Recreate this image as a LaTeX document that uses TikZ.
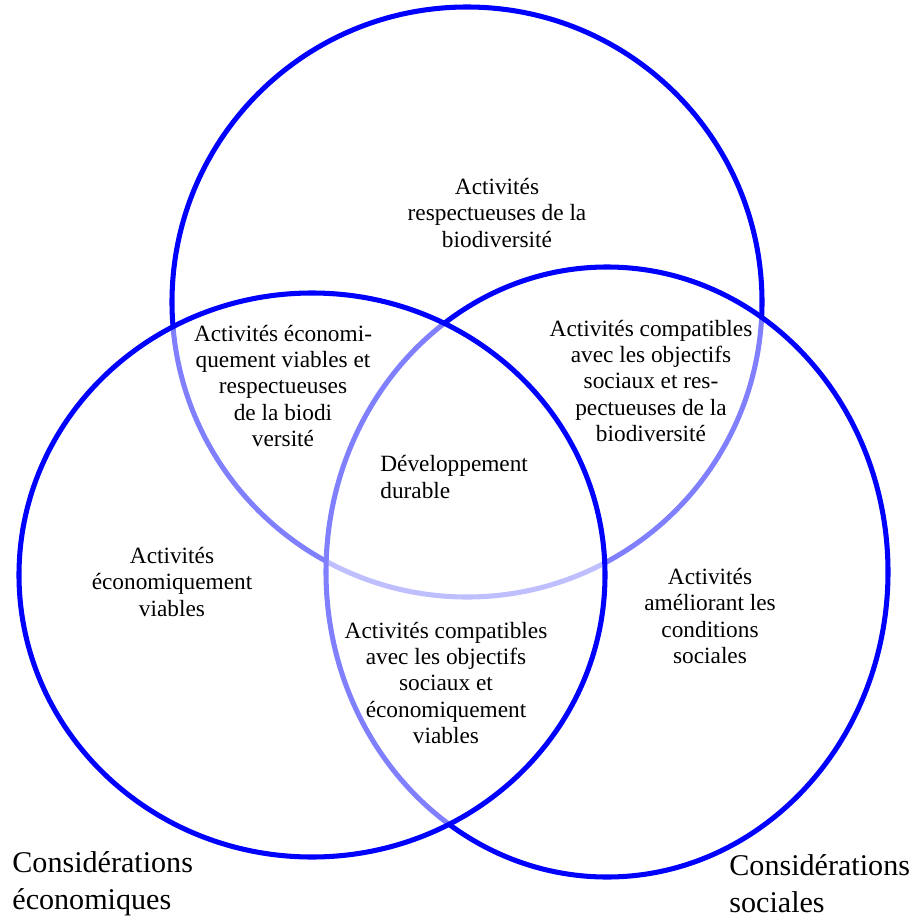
\documentclass[tikz,border=0pt]{standalone}
\usepackage{fontspec}
\setmainfont{Liberation Serif}
\begin{document}
\begin{tikzpicture}[x=0.0181cm, y=-0.0181cm,
    set/.style={draw=blue, line width=2.6pt, fill=white, fill opacity=0.5, draw opacity=1},
    zone/.style={align=center, inner sep=0pt, font=\fontsize{12}{13.4}\selectfont},
    title/.style={align=left, anchor=west, inner sep=0pt, font=\fontsize{15.5}{19}\selectfont}]

\useasboundingbox (0,0) rectangle (914,920);

% the three sets, drawn top, right, left
\filldraw[set] (467,302) ellipse [x radius=295, y radius=295];
\filldraw[set] (607,572) ellipse [x radius=281, y radius=305];
\filldraw[set] (312,575) ellipse [x radius=293, y radius=282];

\node[zone] (bio) at (497,213) {Activités\\respectueuses de la\\biodiversité};
\node[zone] (ecobio) at (283,386) {Activités économi-\\quement viables et\\respectueuses\\de la biodi\\versité};
\node[zone] (socbio) at (651,381) {Activités compatibles\\avec les objectifs\\sociaux et res-\\pectueuses de la\\biodiversité};
\node[zone, align=left, anchor=west] (dd) at (380,477) {Développement\\durable};
\node[zone] (eco) at (172,582) {Activités\\économiquement\\viables};
\node[zone] (soceco) at (446,683) {Activités compatibles\\avec les objectifs\\sociaux et\\économiquement\\viables};
\node[zone] (soc) at (710,616) {Activités\\améliorant les\\conditions\\sociales};

\node[title] (teco) at (12,884) {Considérations\\économiques};
\node[title] (tsoc) at (729,884) {Considérations\\sociales};

\end{tikzpicture}
\end{document}
